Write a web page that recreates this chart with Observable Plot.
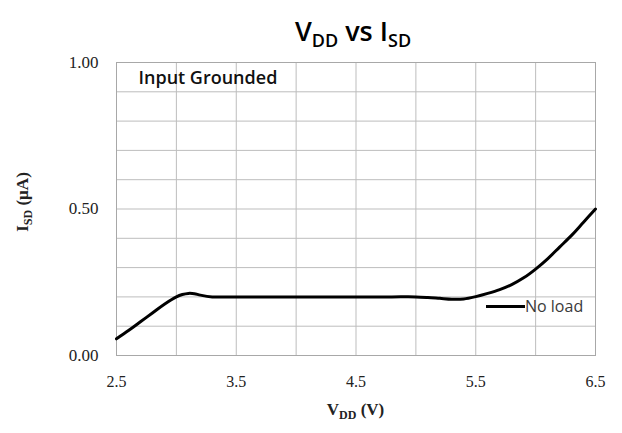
<!DOCTYPE html>
<html>
<head>
<meta charset="utf-8">
<script src="https://cdn.jsdelivr.net/npm/d3@7"></script>
<script src="https://cdn.jsdelivr.net/npm/@observablehq/plot@0.6"></script>
<style>
  html, body { margin: 0; padding: 0; background: #fff; }
  #wrap { position: relative; width: 622px; height: 433px; overflow: hidden; }
  #wrap svg { position: absolute; left: 0; top: 0; }
  .ov { position: absolute; white-space: nowrap; color: #000; }
  #title { left: 0; width: 706px; top: 12px; text-align: center; font-family: "Open Sans", sans-serif; font-weight: 600; font-size: 27px; }
  #title sub { font-size: 18px; vertical-align: -6px; }
  #xlab { left: 0; width: 711px; top: 400px; text-align: center; font-family: "Liberation Serif", serif; font-weight: bold; font-size: 17px; color: #222; }
  #xlab sub { font-size: 12px; vertical-align: -4px; }
  #ylab { left: 24px; top: 202px; transform: translate(-50%, -50%) rotate(-90deg); font-family: "Liberation Serif", serif; font-weight: bold; font-size: 17px; color: #222; }
  #ylab sub { font-size: 12px; vertical-align: -4px; }
  #legend { left: 486px; top: 295px; font-family: "Open Sans", sans-serif; font-size: 16px; display: flex; align-items: center; color: #3a3a3a; }
  #legend span.sw { display: inline-block; width: 39px; height: 3px; background: #000; margin-right: 0px; }
</style>
</head>
<body>
<div id="wrap"></div>
<script>
// Data
const vdd = [2.5, 2.6, 2.7, 2.8, 2.9, 3.0, 3.05, 3.1, 3.15, 3.2, 3.3, 3.5, 4.0, 4.5, 4.8, 5.0, 5.1, 5.2, 5.3, 5.4, 5.5, 5.6, 5.7, 5.8, 5.9, 6.0, 6.1, 6.2, 6.3, 6.4, 6.5];
const isd = [0.057, 0.085, 0.115, 0.145, 0.175, 0.200, 0.208, 0.212, 0.211, 0.206, 0.200, 0.200, 0.200, 0.200, 0.200, 0.200, 0.198, 0.195, 0.192, 0.193, 0.201, 0.212, 0.225, 0.242, 0.265, 0.295, 0.33, 0.37, 0.41, 0.455, 0.50];
const xGridTicks = [2.5, 3.0, 3.5, 4.0, 4.5, 5.0, 5.5, 6.0, 6.5];
const xLabelTicks = [2.5, 3.5, 4.5, 5.5, 6.5];
const yGridTicks = [0, 0.1, 0.2, 0.3, 0.4, 0.5, 0.6, 0.7, 0.8, 0.9, 1.0];
const yLabelTicks = [0, 0.5, 1.0];
const titleMain = "V", titleSub1 = "DD", titleMid = " vs I", titleSub2 = "SD";
const annotation = "Input Grounded";
const seriesName = "No load";

const data = vdd.map((v, i) => ({v, i: isd[i]}));

const chart = Plot.plot({
  width: 622,
  height: 433,
  marginTop: 62,
  marginLeft: 116,
  marginRight: 27,
  marginBottom: 78,
  style: { background: "white", fontFamily: "'Liberation Serif', serif", color: "#222" },
  x: { domain: [2.5, 6.5] },
  y: { domain: [0, 1] },
  marks: [
    Plot.gridX(xGridTicks, { stroke: "#bdbdbd", strokeOpacity: 1, strokeWidth: 1 }),
    Plot.gridY(yGridTicks, { stroke: "#bdbdbd", strokeOpacity: 1, strokeWidth: 1 }),
    Plot.frame({ stroke: "#a8a8a8", strokeWidth: 1 }),
    Plot.line(data, { x: "v", y: "i", stroke: "#000", strokeWidth: 3, curve: "catmull-rom" }),
    Plot.text([annotation], { frameAnchor: "top-left", dx: 22, dy: 9, text: d => d, fontFamily: "'Open Sans', sans-serif", fontWeight: 600, fontSize: 18, fill: "#111", textAnchor: "start", lineAnchor: "top" }),
    Plot.axisX(xLabelTicks, { tickSize: 0, tickPadding: 20, label: null, tickFormat: d3.format(".1f"), fontSize: 16, fill: "#222" }),
    Plot.axisY(yLabelTicks, { tickSize: 0, tickPadding: 18, label: null, tickFormat: d3.format(".2f"), fontSize: 17, fill: "#222" })
  ]
});

const wrap = document.getElementById("wrap");
wrap.appendChild(chart);

const t = document.createElement("div");
t.id = "title"; t.className = "ov";
t.innerHTML = `${titleMain}<sub>${titleSub1}</sub>${titleMid}<sub>${titleSub2}</sub>`;
wrap.appendChild(t);

const xl = document.createElement("div");
xl.id = "xlab"; xl.className = "ov";
xl.innerHTML = "V<sub>DD</sub> (V)";
wrap.appendChild(xl);

const yl = document.createElement("div");
yl.id = "ylab"; yl.className = "ov";
yl.innerHTML = "I<sub>SD</sub> (µA)";
wrap.appendChild(yl);

const lg = document.createElement("div");
lg.id = "legend"; lg.className = "ov";
lg.innerHTML = `<span class="sw"></span>${seriesName}`;
wrap.appendChild(lg);
</script>
</body>
</html>
